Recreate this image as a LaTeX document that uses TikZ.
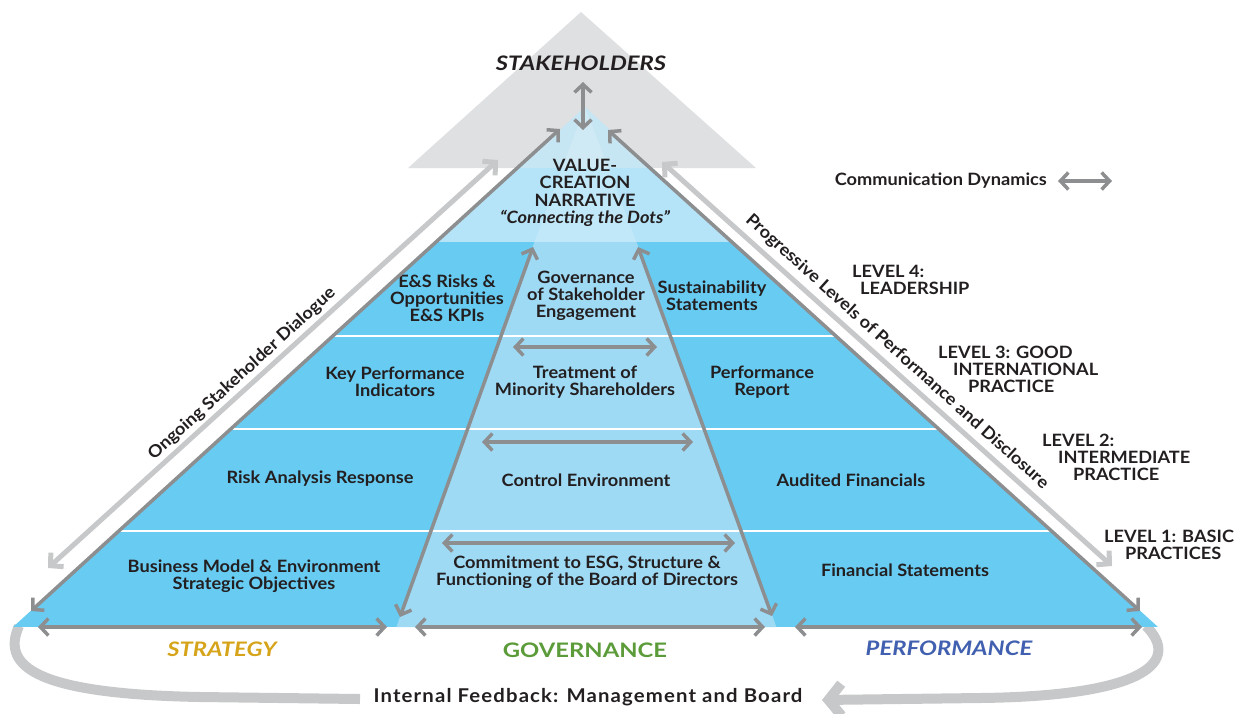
\documentclass[tikz,border=0pt]{standalone}
\usepackage{fontspec}
\setmainfont{Lato}[FakeStretch=1.07]
\newfontfamily\capfont{Lato}[FakeStretch=1.19]
\usetikzlibrary{arrows.meta}
\definecolor{ink}{HTML}{231F20}
\definecolor{dgray}{HTML}{8D8E90}
\definecolor{lgray}{HTML}{C7C8CA}
\definecolor{trigray}{HTML}{DFE0E2}
\definecolor{sideblue}{HTML}{67CBF2}
\definecolor{midblue}{HTML}{9FDAF5}
\definecolor{topblue}{HTML}{B5E3F7}
\definecolor{topblueg}{HTML}{C7E6F3}
\definecolor{toplight}{HTML}{C0E8F9}
\definecolor{toplightg}{HTML}{CFEAF5}
\definecolor{gold}{HTML}{D6A41A}
\definecolor{govgreen}{HTML}{5C9B3A}
\definecolor{perfblue}{HTML}{4260B0}
\newcommand\bodyfs{\fontsize{17}{17}\selectfont}
\newcommand\capfs{\fontsize{20}{22}\selectfont}
\begin{document}
\begin{tikzpicture}[x=1pt,y=-1pt,
  txt/.style={font=\bfseries\bodyfs, text=ink, align=center, inner sep=0pt},
  lvl/.style={font=\bfseries\bodyfs, text=ink, align=left, inner sep=0pt, anchor=west},
  dk/.style={draw=dgray, line width=3.5pt, {Straight Barb[length=8pt,width=17pt]}-{Straight Barb[length=8pt,width=17pt]}},
  lt/.style={draw=lgray, line width=5pt, {Straight Barb[length=9pt,width=19pt]}-{Straight Barb[length=9pt,width=19pt]}},
  fbline/.style={draw=lgray, line width=10pt},
  col/.style={font=\capfont\bfseries\capfs, inner sep=0pt},
  coli/.style={font=\capfont\bfseries\itshape\capfs, inner sep=0pt}]
\useasboundingbox (0,0) rectangle (1238,713);

% background stakeholder triangle
\fill[trigray] (581,12) -- (756,168) -- (408,168) -- cycle;

% feedback curves
\coordinate (fl0) at (19,626);
\coordinate (fl1) at (360,699);
\coordinate (fr0) at (1146,626);
\coordinate (fr1) at (822,700);
\draw[fbline] (fl0) .. controls (0,668) and (40,694) .. (200,697) -- (fl1);
\draw[fbline, -{Straight Barb[length=13pt,width=32pt]}] (fr0) .. controls (1180,660) and (1150,696) .. (980,698) -- (fr1);

% pyramid
\begin{scope}
\clip (13,627) -- (585,107) -- (1158,627) -- cycle;
\fill[topblueg] (0,100) rectangle (1238,168);
\fill[topblue] (0,168) rectangle (1238,242);
\fill[sideblue] (0,242) rectangle (1238,627);
\fill[midblue] (396.4,627) -- (534.4,242) -- (636.5,242) -- (776.4,627) -- cycle;
\begin{scope}
\clip (534.4,242) -- (585,107) -- (636.5,242) -- cycle;
\fill[toplightg] (0,100) rectangle (1238,168);
\fill[toplight] (0,168) rectangle (1238,242);
\end{scope}
\draw[white, line width=1.6pt] (0,336) -- (1238,336) (0,429) -- (1238,429) (0,531) -- (1238,531);
\end{scope}

% texts
\node[coli, text=ink] (stk) at (581,63) {STAKEHOLDERS};
\node[txt, font=\bfseries\fontsize{17}{17.3}\selectfont] (vcn) at (585,193) {VALUE-\\CREATION\\NARRATIVE\\\itshape “Connecting the Dots”};
\node[txt] (esr) at (447,298) {E\&S Risks \&\\Opportunities\\E\&S KPIs};
\node[txt] (gse) at (586,296) {Governance\\of Stakeholder\\Engagement};
\node[txt] (sus) at (712,296) {Sustainability\\Statements};
\node[txt] (kpi) at (395,382) {Key Performance\\Indicators};
\node[txt] (tms) at (585,382) {Treatment of\\Minority Shareholders};
\node[txt] (prf) at (762,382) {Performance\\Report};
\node[txt] (rar) at (320,479) {Risk Analysis Response};
\node[txt] (ctl) at (586,480) {Control Environment};
\node[txt] (aud) at (851,480) {Audited Financials};
\node[txt] (bme) at (254,576) {Business Model \& Environment\\Strategic Objectives};
\node[txt] (cte) at (587,572) {Commitment to ESG, Structure \&\\Functioning of the Board of Directors};
\node[txt] (fin) at (905,570) {Financial Statements};

\node[coli, text=gold] (str) at (222,649) {STRATEGY};
\node[col, text=govgreen] (gov) at (585,650) {GOVERNANCE};
\node[coli, text=perfblue] (per) at (949,648) {PERFORMANCE};
\node[txt, font=\bfseries\fontsize{19}{20}\selectfont\addfontfeature{LetterSpace=6}] (ifb) at (588,697) {Internal Feedback: Management and Board};

\node[txt, anchor=east] (com) at (1047,181) {Communication Dynamics};
\node[lvl] (l4) at (852,280) {LEVEL 4:\\\hspace*{8pt}LEADERSHIP};
\node[lvl] (l3) at (938,369) {LEVEL 3: GOOD\\\hspace*{15pt}INTERNATIONAL\\\hspace*{30pt}PRACTICE};
\node[lvl] (l2) at (1042,457) {LEVEL 2:\\\hspace*{16pt}INTERMEDIATE\\\hspace*{31pt}PRACTICE};
\node[lvl] (l1) at (1104,545) {LEVEL 1: BASIC\\\hspace*{21pt}PRACTICES};

\node[txt, rotate=42.4] (osd) at (242,374) {Ongoing Stakeholder Dialogue};
\node[txt, rotate=-42] (pld) at (897,352) {Progressive Levels of Performance and Disclosure};

% arrows
\coordinate (s0) at (583,82);  \coordinate (s1) at (583,130);
\draw[dk] (s0) -- (s1);
\coordinate (le0) at (31,611);  \coordinate (le1) at (560,129);
\coordinate (re0) at (1140,611); \coordinate (re1) at (608,130);
\draw[dk] (le0) -- (le1);
\draw[dk] (re0) -- (re1);
\coordinate (li0) at (400,617); \coordinate (li1) at (533,247);
\coordinate (ri0) at (772,616); \coordinate (ri1) at (638,247);
\draw[dk] (li0) -- (li1);
\draw[dk] (ri0) -- (ri1);
\coordinate (h1a) at (513,347); \coordinate (h1b) at (657,347);
\coordinate (h2a) at (482,442); \coordinate (h2b) at (693,442);
\coordinate (h3a) at (442,543); \coordinate (h3b) at (735,543);
\draw[dk] (h1a) -- (h1b);
\draw[dk] (h2a) -- (h2b);
\draw[dk] (h3a) -- (h3b);
\coordinate (b1a) at (38,627);  \coordinate (b1b) at (387,627);
\coordinate (b2a) at (415,627); \coordinate (b2b) at (765,627);
\coordinate (b3a) at (795,627); \coordinate (b3b) at (1142,627);
\draw[dk] (b1a) -- (b1b);
\draw[dk] (b2a) -- (b2b);
\draw[dk] (b3a) -- (b3b);
\coordinate (ol0) at (498,160); \coordinate (ol1) at (48,568);
\coordinate (or0) at (662,162); \coordinate (or1) at (1112,566);
\draw[lt] (ol0) -- (ol1);
\draw[lt] (or0) -- (or1);
\coordinate (c0) at (1058,181); \coordinate (c1) at (1112,181);
\draw[dk] (c0) -- (c1);
\end{tikzpicture}
\end{document}
